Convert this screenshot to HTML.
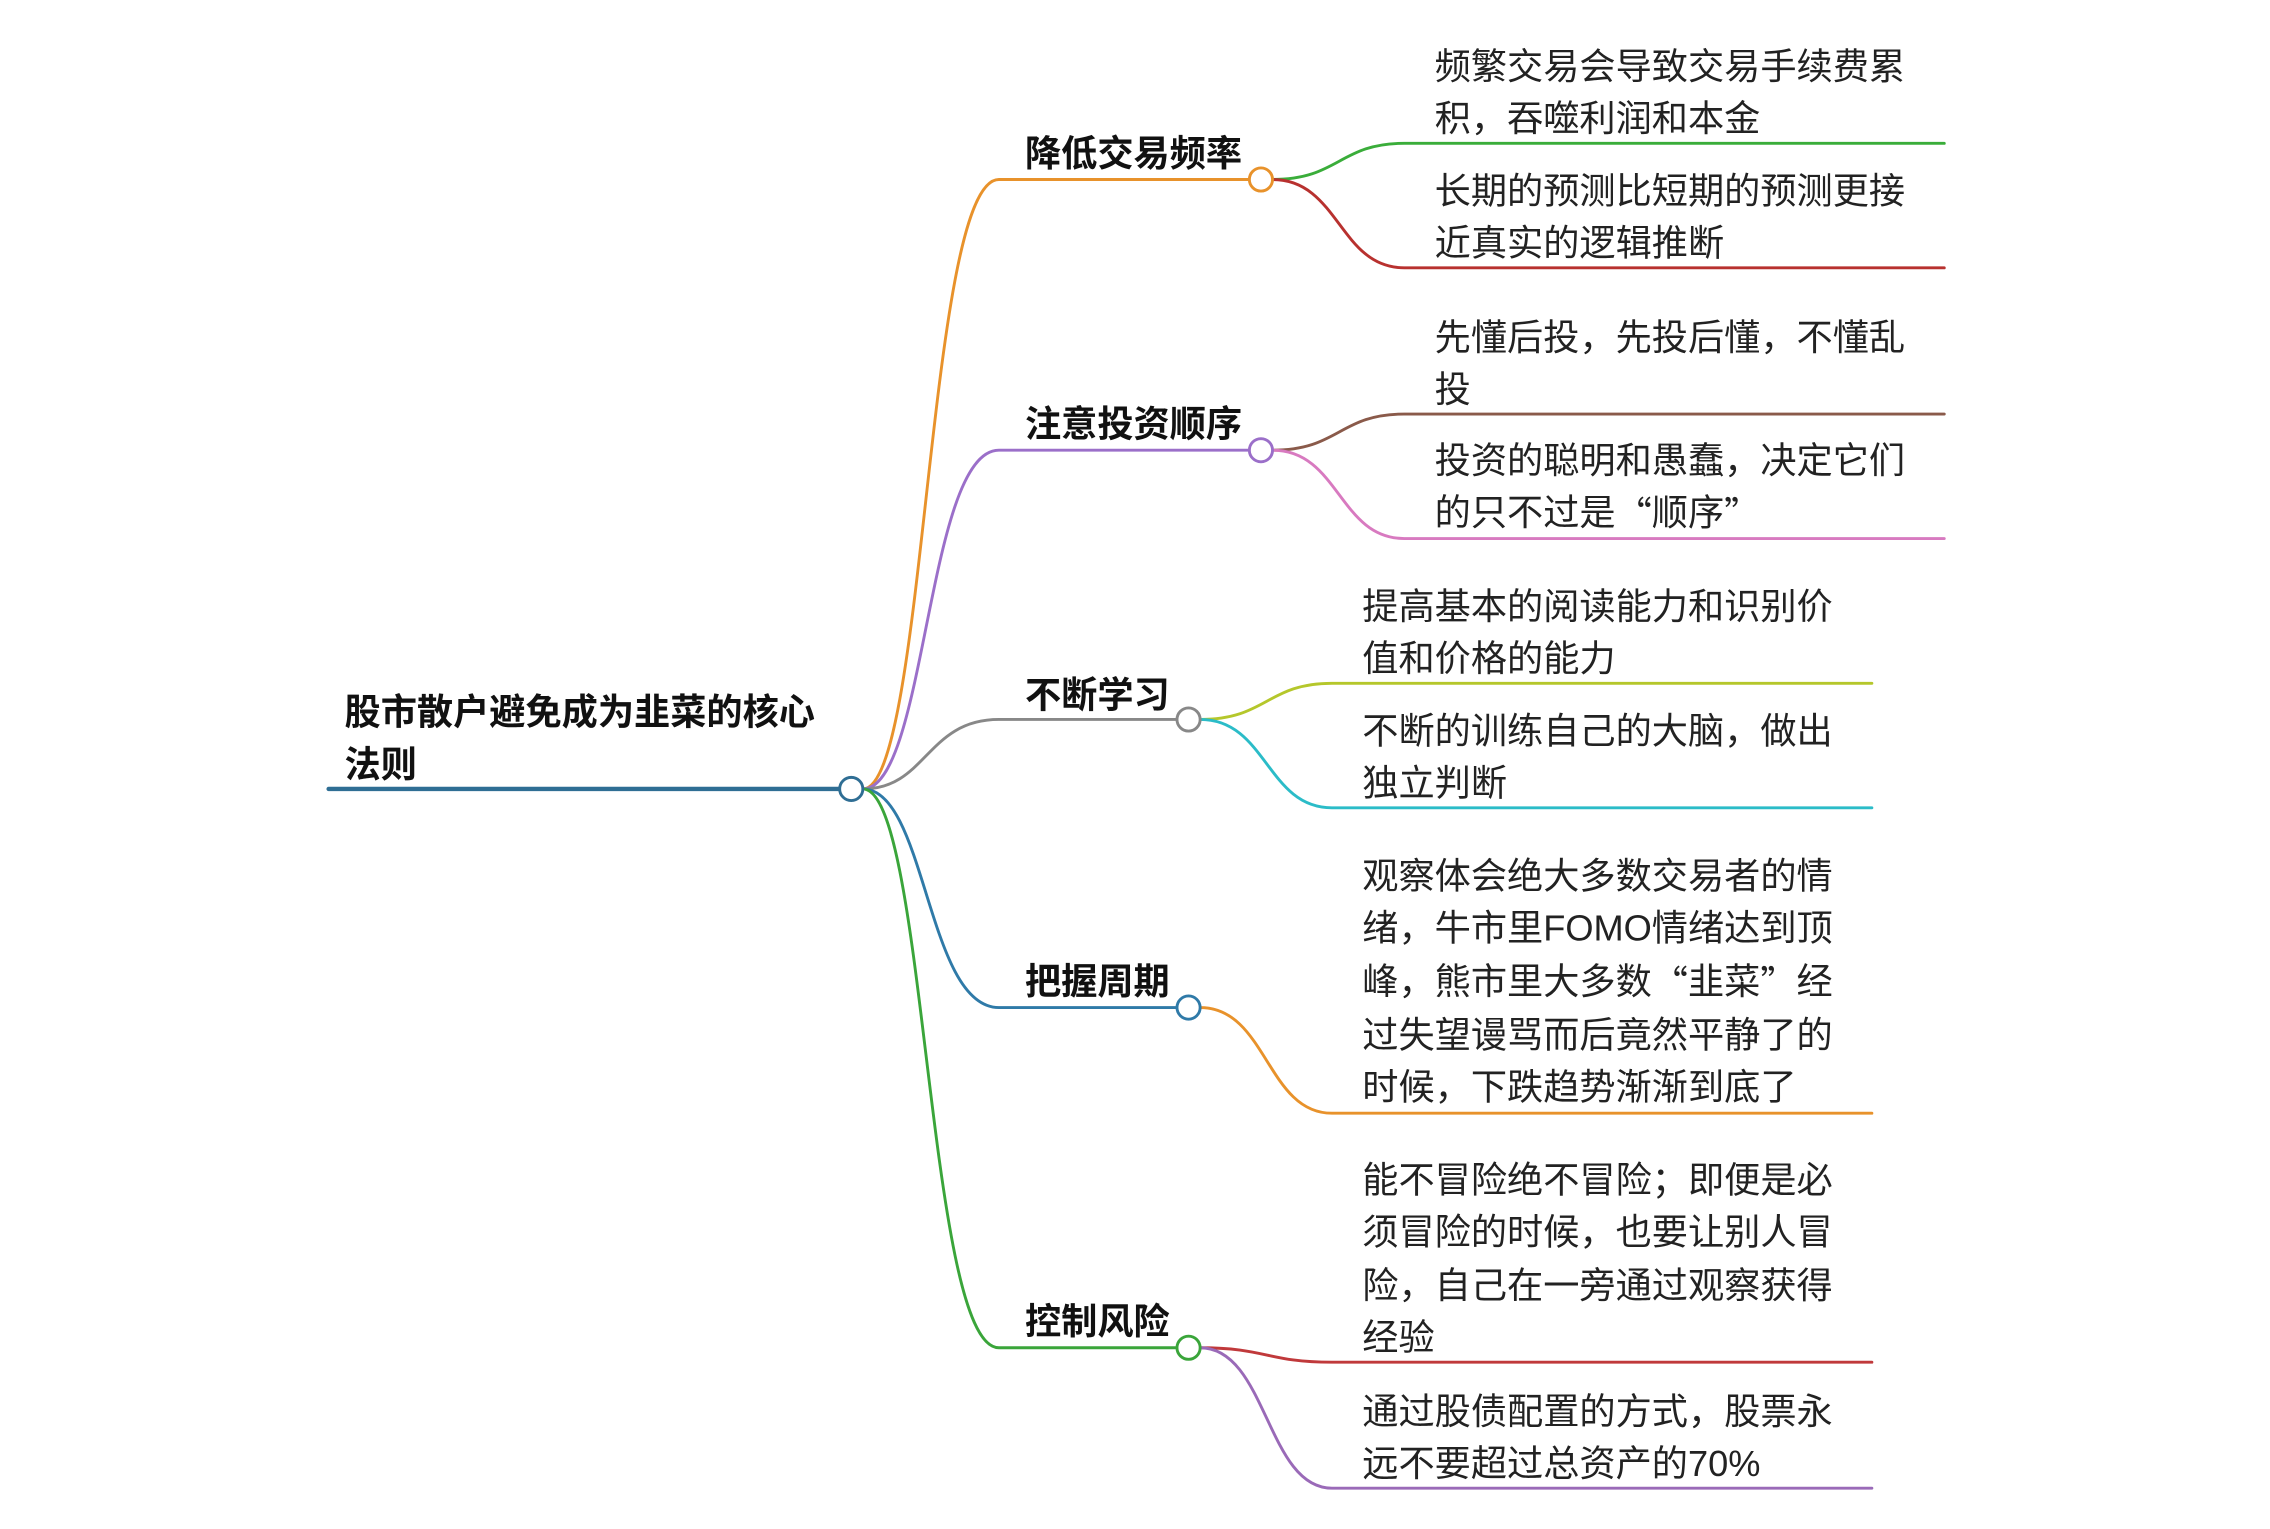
<!DOCTYPE html>
<html><head><meta charset="utf-8"><style>
html,body{margin:0;padding:0;background:#fff;}
svg{display:block;}
text{font-family:"Liberation Sans","Noto Sans CJK SC",sans-serif;font-size:25px;fill:#222;dominant-baseline:central;}
.b{font-weight:bold;fill:#111;}
.q{font-family:"Noto Sans CJK SC",sans-serif;}
</style></head><body>
<svg width="2270" height="1529" viewBox="0 0 1568 1056.2" preserveAspectRatio="none" xmlns="http://www.w3.org/2000/svg">
<g fill="none" stroke-linecap="round">
<path d="M227 545 H580" stroke="#2f6e94" stroke-width="3"/>
<path d="M596 545 C640 545 640 124 690 124 H863" stroke="#e8922b" stroke-width="2"/>
<path d="M596 545 C640 545 640 311 690 311 H863" stroke="#9b6fc9" stroke-width="2"/>
<path d="M596 545 C640 545 640 497 690 497 H813" stroke="#888" stroke-width="2"/>
<path d="M596 545 C640 545 640 696 690 696 H813" stroke="#2f7aa8" stroke-width="2"/>
<path d="M596 545 C640 545 640 931 690 931 H813" stroke="#3aa53a" stroke-width="2"/>
<path d="M879 124 C925 124 925 99 970 99 H1343" stroke="#3aad3a" stroke-width="2"/>
<path d="M879 124 C925 124 925 185 970 185 H1343" stroke="#b8312f" stroke-width="2"/>
<path d="M879 311 C925 311 925 286 970 286 H1343" stroke="#8a5a4a" stroke-width="2"/>
<path d="M879 311 C925 311 925 372 970 372 H1343" stroke="#d87ac0" stroke-width="2"/>
<path d="M829 497 C875 497 875 472 920 472 H1293" stroke="#b5c72b" stroke-width="2"/>
<path d="M829 497 C875 497 875 558 920 558 H1293" stroke="#2bbcc8" stroke-width="2"/>
<path d="M829 696 C875 696 875 769 920 769 H1293" stroke="#e8922b" stroke-width="2"/>
<path d="M829 931 C875 931 875 941 920 941 H1293" stroke="#c0393b" stroke-width="2"/>
<path d="M829 931 C875 931 875 1028 920 1028 H1293" stroke="#9a6ab8" stroke-width="2"/>
<circle cx="588" cy="545" r="8" fill="#fff" stroke="#2f6e94" stroke-width="2"/>
<circle cx="871" cy="124" r="8" fill="#fff" stroke="#e8922b" stroke-width="2"/>
<circle cx="871" cy="311" r="8" fill="#fff" stroke="#9b6fc9" stroke-width="2"/>
<circle cx="821" cy="497" r="8" fill="#fff" stroke="#888" stroke-width="2"/>
<circle cx="821" cy="696" r="8" fill="#fff" stroke="#2f7aa8" stroke-width="2"/>
<circle cx="821" cy="931" r="8" fill="#fff" stroke="#3aa53a" stroke-width="2"/>
</g>
<text class="b" x="238" y="492">股市散户避免成为韭菜的核心</text>
<text class="b" x="238" y="528">法则</text>
<text class="b" x="708" y="106">降低交易频率</text>
<text class="b" x="708" y="293">注意投资顺序</text>
<text class="b" x="708" y="480">不断学习</text>
<text class="b" x="708" y="678">把握周期</text>
<text class="b" x="708" y="913">控制风险</text>
<text x="991" y="46">频繁交易会导致交易手续费累</text>
<text x="991" y="82">积，吞噬利润和本金</text>
<text x="991" y="132">长期的预测比短期的预测更接</text>
<text x="991" y="168">近真实的逻辑推断</text>
<text x="991" y="233">先懂后投，先投后懂，不懂乱</text>
<text x="991" y="269">投</text>
<text x="991" y="318">投资的聪明和愚蠢，决定它们</text>
<text x="991" y="354">的只不过是<tspan class="q">“</tspan>顺序<tspan class="q">”</tspan></text>
<text x="941" y="419">提高基本的阅读能力和识别价</text>
<text x="941" y="455">值和价格的能力</text>
<text x="941" y="505">不断的训练自己的大脑，做出</text>
<text x="941" y="541">独立判断</text>
<text x="941" y="605">观察体会绝大多数交易者的情</text>
<text x="941" y="641">绪，牛市里FOMO情绪达到顶</text>
<text x="941" y="678">峰，熊市里大多数<tspan class="q">“</tspan>韭菜<tspan class="q">”</tspan>经</text>
<text x="941" y="715">过失望谩骂而后竟然平静了的</text>
<text x="941" y="751">时候，下跌趋势渐渐到底了</text>
<text x="941" y="815">能不冒险绝不冒险；即便是必</text>
<text x="941" y="851">须冒险的时候，也要让别人冒</text>
<text x="941" y="888">险，自己在一旁通过观察获得</text>
<text x="941" y="924">经验</text>
<text x="941" y="975">通过股债配置的方式，股票永</text>
<text x="941" y="1011">远不要超过总资产的70%</text>
</svg>
</body></html>
